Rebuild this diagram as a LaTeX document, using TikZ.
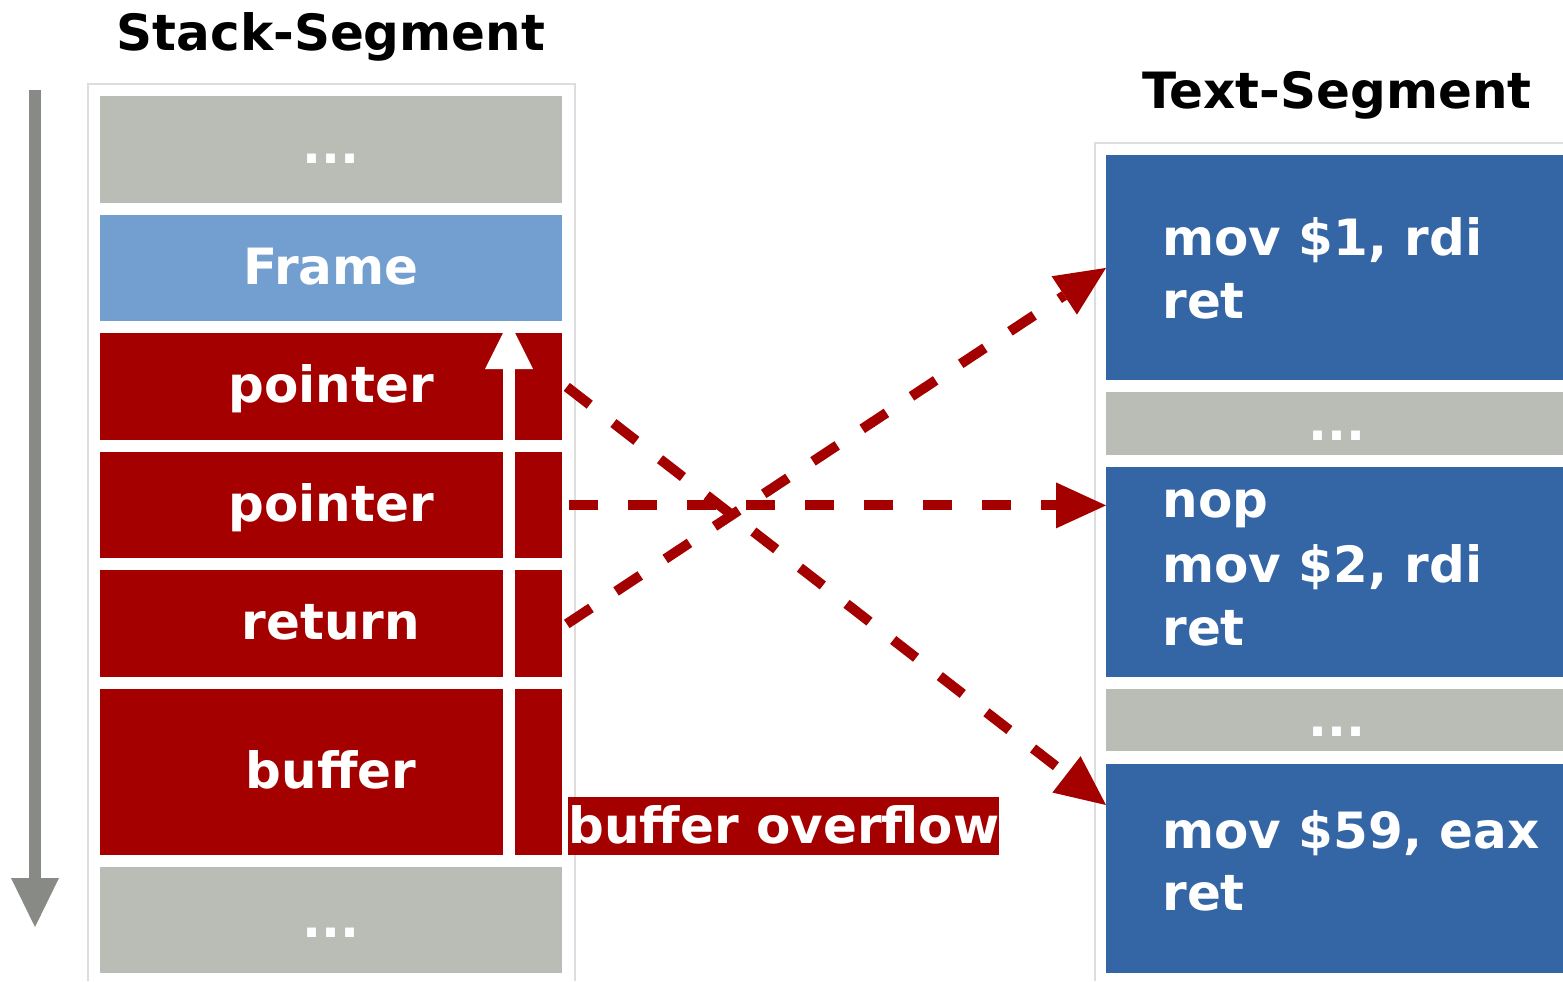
\documentclass[tikz,border=0pt]{standalone}
\usepackage{fontspec}
\setmainfont{DejaVu Sans}
\usetikzlibrary{arrows.meta,calc}
\definecolor{slotgray}{HTML}{BABDB6}
\definecolor{framebl}{HTML}{729FCF}
\definecolor{stackred}{HTML}{A40000}
\definecolor{codeblue}{HTML}{3465A4}
\definecolor{axisgray}{HTML}{888A85}
\definecolor{rimgray}{HTML}{DDDDDD}
\begin{document}
\begin{tikzpicture}[x=0.5pt,y=-0.5pt,
  bigfont/.style={font=\bfseries\fontsize{25pt}{31.5pt}\selectfont},
  lbl/.style={bigfont, text=white, inner sep=0pt, anchor=base},
  code/.style={bigfont, text=white, inner sep=0pt, anchor=base west},
  ttl/.style={bigfont, text=black, inner sep=0pt, anchor=base},
  slot/.style={rectangle, inner sep=0pt, anchor=north west, minimum width=231pt},
  codeslot/.style={rectangle, inner sep=0pt, anchor=north west, minimum width=228.5pt},
  jump/.style={stackred, line width=5pt, dash pattern=on 14.5pt off 15pt,
    -{Triangle[length=25pt,width=23pt,line width=0pt]}},
  rim/.style={rimgray, line width=0.6pt}
]
\useasboundingbox (0,0) rectangle (1563,981);

% titles
\node[ttl] (stitle) at (331,50) {Stack-Segment};
\node[ttl] (ttitle) at (1337,108) {Text-Segment};

% segment frames
\draw[rim] (88,981) -- (88,84) -- (575,84) -- (575,981);
\draw[rim] (1095,981) -- (1095,143) -- (1563,143);

% growth direction of the stack
\coordinate (gtop) at (35,90);
\coordinate (gbot) at (35,927);
\draw[axisgray, line width=6pt, -{Triangle[length=24.5pt,width=24pt,line width=0pt]}] (gtop) -- (gbot);

% stack slots
\node[slot, fill=slotgray, minimum height=53.5pt] (g1) at (100,96) {};
\node[slot, fill=framebl, minimum height=53pt] (fr) at (100,215) {};
\node[slot, fill=stackred, minimum height=53.5pt] (p1) at (100,333) {};
\node[slot, fill=stackred, minimum height=53pt] (p2) at (100,452) {};
\node[slot, fill=stackred, minimum height=53.5pt] (rt) at (100,570) {};
\node[slot, fill=stackred, minimum height=83pt] (bf) at (100,689) {};
\node[slot, fill=slotgray, minimum height=53pt] (g2) at (100,867) {};

\node[lbl] (g1t) at (331,163) {...};
\node[lbl] (frt) at (331,284) {Frame};
\node[lbl] (p1t) at (331,402) {pointer};
\node[lbl] (p2t) at (331,521) {pointer};
\node[lbl] (rtt) at (331,639) {return};
\node[lbl] (bft) at (331,788) {buffer};
\node[lbl] (g2t) at (331,937) {...};

% overflow direction
\coordinate (ov0) at (509,856);
\coordinate (ov1) at (509,321);
\draw[white, line width=6pt, -{Triangle[length=24pt,width=24pt,line width=0pt]}] (ov0) -- (ov1);

\node[bigfont, text=white, fill=stackred, inner xsep=0pt, inner ysep=0pt,
      text height=23pt, text depth=6pt, anchor=base west] (ovl) at (568,843) {buffer overflow};

% text segment
\node[codeslot, fill=codeblue, minimum height=112.5pt] (c1) at (1106,155) {};
\node[codeslot, fill=slotgray, minimum height=31.5pt] (d1) at (1106,392) {};
\node[codeslot, fill=codeblue, minimum height=105pt] (c2) at (1106,467) {};
\node[codeslot, fill=slotgray, minimum height=31pt] (d2) at (1106,689) {};
\node[codeslot, fill=codeblue, minimum height=104.5pt] (c3) at (1106,764) {};

\node[code] (c1a) at (1162,255) {mov \$1, rdi};
\node[code] (c1b) at (1162,318) {ret};
\node[lbl] (d1t) at (1337,440) {...};
\node[code] (c2a) at (1162,517) {nop};
\node[code] (c2b) at (1162,582) {mov \$2, rdi};
\node[code] (c2c) at (1162,645) {ret};
\node[lbl] (d2t) at (1337,736) {...};
\node[code] (c3a) at (1162,848) {mov \$59, eax};
\node[code] (c3b) at (1162,910) {ret};

% overwritten pointers
\draw[jump] ([xshift=2pt]p1.east) -- ($(c3.north west)+(0,41)$);
\draw[jump] ([xshift=3pt]p2.east) -- (p2.east -| c2.west);
\draw[jump] ([xshift=2pt]rt.east) -- (c1.west);
\end{tikzpicture}
\end{document}
